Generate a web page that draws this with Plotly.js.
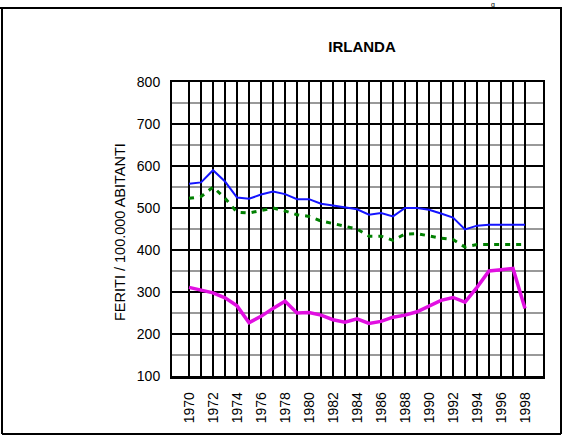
<!DOCTYPE html>
<html>
<head>
<meta charset="utf-8">
<script src="https://cdn.plot.ly/plotly-3.0.1.min.js"></script>
<style>html,body{margin:0;padding:0;background:#fff;}#chart{width:562px;height:436px;}</style>
</head>
<body>
<div id="chart"></div>
<script>
var years = [1970,1971,1972,1973,1974,1975,1976,1977,1978,1979,1980,1981,1982,1983,1984,1985,1986,1987,1988,1989,1990,1991,1992,1993,1994,1995,1996,1997,1998];
var seriesBlue = [558,561,590,563,525,522,532,539,533,521,521,510,506,501,497,484,488,480,500,500,496,487,477,449,458,460,460,460,460];
var seriesGreen = [523,527,550,523,490,488,494,500,493,484,480,469,463,457,450,433,433,423,438,439,433,428,425,407,413,413,413,413,413];
var seriesMagenta = [311,305,298,286,267,227,242,261,278,250,251,245,234,228,236,225,230,240,245,253,267,280,287,276,311,350,353,356,261];
var yTicks = [100,200,300,400,500,600,700,800];
var xTickText = years.map(function(y){ return (y % 2 === 0) ? String(y) : ''; });

var FONT = 'Liberation Sans, Arial, sans-serif';

var traces = [
  {x: years, y: seriesBlue, type: 'scatter', mode: 'lines', line: {color: 'rgb(20,20,255)', width: 2}, hoverinfo: 'skip'},
  {x: years, y: seriesGreen, type: 'scatter', mode: 'lines', line: {color: 'rgb(0,128,0)', width: 3, dash: '5px,6px'}, hoverinfo: 'skip'},
  {x: years, y: seriesMagenta, type: 'scatter', mode: 'lines', line: {color: 'rgb(225,15,225)', width: 3.5}, hoverinfo: 'skip'}
];

// plot area: x 172..543, y 82..376
function px(x){ return (x - 172) / 371; }
function py(y){ return (376 - y) / 294; }

var layout = {
  width: 562, height: 436,
  margin: {l: 172, r: 19, t: 82, b: 60, pad: 0},
  paper_bgcolor: '#fff', plot_bgcolor: '#fff',
  showlegend: false,
  font: {family: FONT, color: '#000', size: 14},
  title: {text: '<b>IRLANDA</b>', font: {family: FONT, size: 15, color: '#000'},
          x: 362/562, xanchor: 'center', xref: 'container', y: 1 - 47/436, yanchor: 'middle', yref: 'container'},
  xaxis: {
    range: [1968.58, 1999.5], tickmode: 'array', tickvals: years, ticktext: xTickText,
    tickangle: -90, tickfont: {family: FONT, size: 14, color: '#000'},
    showgrid: true, gridcolor: '#000', gridwidth: 1.6,
    showline: true, linecolor: '#000', linewidth: 2.5, mirror: true,
    ticks: '', ticklabelstandoff: 8, zeroline: false, fixedrange: true
  },
  yaxis: {
    range: [100, 800], tickmode: 'array', tickvals: yTicks,
    tickfont: {family: FONT, size: 14, color: '#000'},
    showgrid: true, gridcolor: '#000', gridwidth: 1.6,
    minor: {dtick: 50, tick0: 50, showgrid: true, gridcolor: '#999', gridwidth: 1.6, ticks: ''},
    showline: true, linecolor: '#000', linewidth: 2, mirror: true,
    ticks: '', ticklabelstandoff: 7, zeroline: false, fixedrange: true
  },
  annotations: [
    {text: 'FERITI / 100.000 ABITANTI', textangle: -90, xref: 'paper', yref: 'paper',
     x: px(120), y: py(232), xanchor: 'center', yanchor: 'middle', showarrow: false,
     font: {family: FONT, size: 14.5, color: '#000'}},
    {text: 'g', xref: 'paper', yref: 'paper', x: px(493), y: py(0), xanchor: 'center', yanchor: 'top',
     showarrow: false, borderpad: 0, font: {family: FONT, size: 7, color: '#000'}}
  ],
  shapes: [
    {type: 'line', xref: 'paper', yref: 'paper', x0: px(2), x1: px(2), y0: py(8), y1: py(434), line: {color: '#000', width: 2}},
    {type: 'line', xref: 'paper', yref: 'paper', x0: px(0), x1: px(562), y0: py(8), y1: py(8), line: {color: '#000', width: 2}},
    {type: 'line', xref: 'paper', yref: 'paper', x0: px(2), x1: px(561), y0: py(434), y1: py(434), line: {color: '#000', width: 2}},
    {type: 'line', xref: 'paper', yref: 'paper', x0: px(561), x1: px(561), y0: py(8), y1: py(434), line: {color: '#000', width: 2}}
  ]
};

Plotly.newPlot('chart', traces, layout, {staticPlot: true, displayModeBar: false});
</script>
</body>
</html>
